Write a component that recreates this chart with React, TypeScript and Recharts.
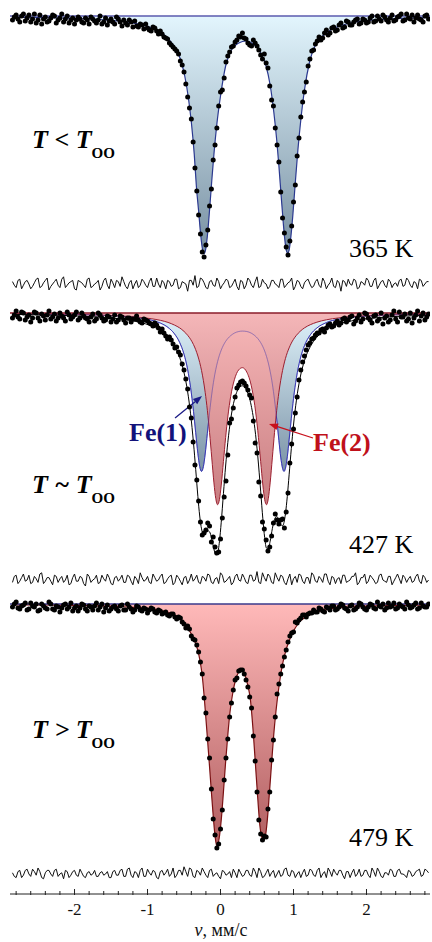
import React from "react";
import { ComposedChart, Area, Line, Scatter, XAxis, YAxis, ReferenceLine } from "recharts";

// Doppler velocity of the measured channels, mm/s
const velocity = [
  -2.85, -2.825, -2.8, -2.775, -2.75, -2.725, -2.7, -2.675, -2.65, -2.625,
  -2.6, -2.575, -2.55, -2.525, -2.5, -2.475, -2.45, -2.425, -2.4, -2.375,
  -2.35, -2.325, -2.3, -2.275, -2.25, -2.225, -2.2, -2.175, -2.15, -2.125,
  -2.1, -2.075, -2.05, -2.025, -2, -1.975, -1.95, -1.925, -1.9, -1.875,
  -1.85, -1.825, -1.8, -1.775, -1.75, -1.725, -1.7, -1.675, -1.65, -1.625,
  -1.6, -1.575, -1.55, -1.525, -1.5, -1.475, -1.45, -1.425, -1.4, -1.375,
  -1.35, -1.325, -1.3, -1.275, -1.25, -1.225, -1.2, -1.175, -1.15, -1.125,
  -1.1, -1.075, -1.05, -1.025, -1, -0.975, -0.95, -0.925, -0.9, -0.875,
  -0.85, -0.825, -0.8, -0.775, -0.75, -0.725, -0.7, -0.675, -0.65, -0.625,
  -0.6, -0.575, -0.55, -0.525, -0.5, -0.475, -0.45, -0.425, -0.4, -0.375,
  -0.35, -0.325, -0.3, -0.275, -0.25, -0.225, -0.2, -0.175, -0.15, -0.125,
  -0.1, -0.075, -0.05, -0.025, 0, 0.025, 0.05, 0.075, 0.1, 0.125,
  0.15, 0.175, 0.2, 0.225, 0.25, 0.275, 0.3, 0.325, 0.35, 0.375,
  0.4, 0.425, 0.45, 0.475, 0.5, 0.525, 0.55, 0.575, 0.6, 0.625,
  0.65, 0.675, 0.7, 0.725, 0.75, 0.775, 0.8, 0.825, 0.85, 0.875,
  0.9, 0.925, 0.95, 0.975, 1, 1.025, 1.05, 1.075, 1.1, 1.125,
  1.15, 1.175, 1.2, 1.225, 1.25, 1.275, 1.3, 1.325, 1.35, 1.375,
  1.4, 1.425, 1.45, 1.475, 1.5, 1.525, 1.55, 1.575, 1.6, 1.625,
  1.65, 1.675, 1.7, 1.725, 1.75, 1.775, 1.8, 1.825, 1.85, 1.875,
  1.9, 1.925, 1.95, 1.975, 2, 2.025, 2.05, 2.075, 2.1, 2.125,
  2.15, 2.175, 2.2, 2.225, 2.25, 2.275, 2.3, 2.325, 2.35, 2.375,
  2.4, 2.425, 2.45, 2.475, 2.5, 2.525, 2.55, 2.575, 2.6, 2.625,
  2.65, 2.675, 2.7, 2.725, 2.75, 2.775, 2.8, 2.825, 2.85,
];

// 365 K: measured absorption (%), residual, fitted doublet
const absorption365 = [
  0.4, 0.1, -0.1, 0.3, 0.6, 0.0, -0.2, 0.5, 0.2, -0.1,
  0.6, 0.3, -0.2, 0.7, 0.4, -0.1, 0.8, 0.3, 0.1, 0.6,
  0.5, 0.2, -0.1, 0.0, 0.7, 0.4, 0.2, -0.2, 0.6, 0.3,
  0.0, 0.7, 0.4, 0.2, 0.8, 0.4, 0.1, 0.3, 0.6, 0.7,
  0.2, 0.4, 0.8, 0.1, 0.3, 0.5, 0.7, 0.4, 0.0, 0.8,
  0.6, 0.2, 0.9, 0.5, 0.3, 0.6, 0.8, 0.1, 0.3, 0.6,
  1.0, 0.4, 0.7, 0.9, 0.4, 0.6, 1.1, 0.5, 1.0, 1.1,
  0.8, 0.9, 1.3, 0.8, 1.2, 1.4, 1.5, 1.1, 1.2, 1.5,
  1.8, 1.5, 1.8, 2.1, 2.2, 2.3, 2.7, 2.9, 3.1, 3.3,
  3.5, 3.8, 4.5, 4.9, 5.6, 6.8, 8.1, 9.2, 10.3, 12.6,
  15.2, 17.5, 19.9, 21.8, 23.6, 24.1, 22.9, 21.4, 19.0, 17.3,
  14.4, 12.9, 11.2, 9.0, 7.6, 7.4, 6.2, 4.6, 4.0, 3.6,
  3.1, 3.0, 2.6, 2.4, 2.0, 2.1, 1.7, 2.2, 2.3, 2.7,
  2.9, 3.0, 2.4, 2.7, 3.0, 3.4, 3.9, 4.3, 3.8, 4.7,
  5.2, 7.0, 8.4, 9.0, 11.2, 12.9, 14.6, 17.6, 20.2, 21.7,
  23.1, 23.9, 22.5, 21.0, 18.6, 16.9, 14.0, 12.2, 10.1, 8.6,
  7.6, 6.6, 5.0, 4.3, 3.5, 3.4, 2.8, 2.5, 2.1, 2.4,
  2.2, 1.7, 1.4, 1.9, 1.7, 1.2, 1.1, 1.5, 1.4, 0.9,
  0.7, 1.2, 1.1, 0.5, 0.6, 0.9, 0.9, 0.6, 0.4, 0.3,
  0.8, 0.7, 0.3, 0.4, 0.7, 0.6, 0.2, 0.0, 0.6, 0.5,
  0.0, 0.3, 0.5, -0.1, 0.1, 0.4, 0.6, 0.2, -0.1, 0.5,
  0.4, 0.1, 0.0, -0.2, 0.5, 0.4, -0.2, 0.2, 0.3, -0.1,
  0.6, 0.2, -0.1, 0.3, 0.4, 0.6, 0.0, -0.1, 0.3,
];
const residual365 = [
  0.2, -0.1, -0.3, 0.3, 0.4, -0.4, -0.1, 0.2, 0.3, 0.0,
  -0.4, -0.2, 0.1, 0.4, 0.5, -0.3, -0.2, 0.1, 0.3, 0.5,
  -0.5, -0.2, 0.0, 0.2, 0.4, -0.1, -0.3, 0.4, 0.6, -0.3,
  -0.1, 0.1, 0.2, 0.3, -0.4, -0.5, 0.3, 0.2, 0.1, -0.1,
  -0.3, 0.4, 0.5, -0.3, -0.2, 0.0, 0.1, 0.3, -0.5, -0.2,
  0.3, 0.5, -0.1, -0.4, 0.4, 0.1, -0.3, 0.3, 0.2, -0.2,
  0.6, 0.2, -0.2, -0.4, 0.1, 0.3, -0.4, 0.0, 0.3, -0.3,
  -0.1, 0.4, 0.2, -0.1, -0.3, 0.2, 0.5, -0.2, -0.2, 0.5,
  0.0, -0.3, 0.3, 0.1, -0.4, 0.3, 0.2, -0.2, -0.1, 0.4,
  0.4, -0.4, -0.3, 0.2, 0.1, 0.0, -0.6, 0.3, 0.3, -0.1,
  0.7, -0.3, -0.2, 0.5, 0.4, 0.1, -0.3, -0.4, 0.2, 0.3,
  -0.1, -0.2, 0.5, 0.2, -0.4, -0.1, 0.1, 0.4, 0.3, -0.3,
  -0.2, 0.1, 0.4, -0.2, -0.5, 0.3, 0.2, -0.4, -0.1, 0.5,
  0.3, -0.1, -0.3, 0.2, 0.6, -0.3, -0.2, 0.4, 0.1, 0.0,
  -0.4, -0.2, 0.3, 0.3, 0.0, -0.1, -0.3, 0.4, 0.4, -0.3,
  -0.1, 0.1, 0.2, 0.5, -0.5, -0.2, 0.3, 0.2, -0.2, -0.4,
  0.1, 0.3, 0.4, 0.0, -0.3, -0.2, 0.2, 0.4, -0.1, -0.3,
  0.5, 0.2, -0.4, -0.1, 0.1, 0.5, -0.2, -0.3, 0.3, 0.1,
  -0.6, 0.3, 0.2, -0.2, 0.4, 0.0, -0.1, 0.4, 0.3, -0.4,
  -0.3, 0.2, 0.1, -0.1, 0.5, 0.3, -0.2, -0.2, 0.3, 0.5,
  -0.4, -0.1, 0.2, 0.3, -0.1, -0.3, 0.4, 0.2, -0.3, 0.0,
  0.1, -0.2, 0.3, 0.4, -0.2, -0.1, 0.5, 0.3, -0.1, -0.3,
  0.2, 0.1, -0.4, 0.4, 0.3, -0.2, 0.0, 0.2, 0.2,
];
const fitVelocity365 = [
  -2.85, -2.5, -2.2, -1.9, -1.6, -1.4, -1.2, -1.05, -0.9, -0.8,
  -0.7, -0.62, -0.55, -0.49, -0.44, -0.4, -0.36, -0.33, -0.3, -0.27,
  -0.245, -0.226, -0.205, -0.18, -0.15, -0.12, -0.09, -0.05, 0, 0.07,
  0.15, 0.25, 0.35, 0.45, 0.55, 0.62, 0.68, 0.73, 0.77, 0.8,
  0.83, 0.86, 0.88, 0.9, 0.921, 0.94, 0.965, 0.99, 1.02, 1.06,
  1.1, 1.15, 1.22, 1.3, 1.4, 1.52, 1.7, 1.95, 2.3, 2.85,
];
const fit365 = [
  0.12, 0.16, 0.2, 0.27, 0.38, 0.5, 0.7, 0.93, 1.32, 1.72,
  2.4, 3.2, 4.3, 6.0, 8.2, 10.6, 13.8, 17.1, 19.5, 22.0,
  23.4, 23.8, 23.4, 22.0, 19.4, 16.5, 13.8, 10.8, 8.0, 5.0,
  3.4, 2.7, 2.5, 2.8, 3.7, 4.9, 6.9, 9.6, 12.4, 15.0,
  17.9, 20.7, 22.3, 23.4, 23.7, 23.4, 22.0, 20.0, 17.1, 13.4,
  10.4, 7.4, 4.6, 2.9, 2.0, 1.35, 0.85, 0.5, 0.3, 0.17,
];

// 427 K: measured, residual, Fe(1) and Fe(2) sub-spectra and their sum
const absorption427 = [
  0.5, 0.2, -0.2, 0.4, 0.6, -0.1, 0.0, 0.7, 0.4, 0.2,
  0.9, 0.5, -0.1, 0.0, 0.5, 0.8, 0.1, 0.3, 0.7, 0.2,
  -0.2, 0.6, 0.4, 0.1, 0.8, 0.5, 0.0, 0.3, 0.5, 0.8,
  -0.1, 0.2, 0.6, 0.4, 0.2, -0.1, 0.7, 0.5, 0.0, 0.3,
  0.5, 0.6, 0.9, 0.4, 0.1, 0.8, 0.6, 0.0, 0.2, 0.5,
  0.8, 0.7, 0.3, 0.4, 0.9, 0.6, 0.2, 0.9, 0.7, 0.3,
  0.4, 0.7, 1.0, 0.5, 0.5, 0.9, 0.6, 0.6, 0.3, 0.7,
  0.9, 1.0, 0.6, 0.7, 0.8, 1.0, 1.1, 1.3, 1.0, 1.2,
  1.5, 1.9, 1.6, 2.0, 2.3, 2.6, 2.4, 2.7, 3.1, 3.5,
  3.4, 3.9, 4.2, 5.1, 5.7, 6.6, 7.6, 9.4, 10.5, 12.9,
  15.2, 16.7, 18.8, 20.9, 22.2, 22.0, 21.7, 21.0, 21.3, 22.9,
  22.4, 23.4, 24.0, 23.9, 22.6, 20.5, 18.4, 16.8, 14.2, 11.0,
  10.6, 9.5, 8.4, 7.5, 7.2, 6.9, 6.8, 7.0, 7.3, 7.7,
  8.2, 8.5, 10.8, 13.0, 14.0, 16.9, 18.3, 20.9, 21.6, 22.7,
  23.8, 23.4, 22.3, 21.0, 20.1, 20.7, 21.1, 20.7, 20.6, 21.5,
  19.9, 18.0, 15.0, 13.1, 11.6, 10.0, 8.4, 6.7, 5.7, 4.9,
  4.3, 3.7, 3.2, 3.0, 2.6, 2.5, 2.2, 2.0, 2.0, 1.7,
  1.6, 1.9, 1.5, 1.2, 1.1, 1.4, 1.3, 1.0, 0.8, 1.2,
  1.0, 0.6, 0.5, 0.9, 0.7, 0.4, 0.3, 1.1, 0.8, 0.5,
  0.2, 0.9, 0.6, 0.0, 0.1, 0.5, 0.7, 1.0, 0.3, 0.2,
  0.8, 0.6, 0.0, 1.1, 0.5, 0.3, 0.9, 0.7, 0.2, -0.2,
  0.6, 0.9, -0.1, 0.4, 0.4, 0.1, 0.8, 0.6, 0.0, 1.0,
  0.5, 0.2, -0.2, 0.8, 0.3, 0.0, 0.7, 0.4, 0.1,
];
const residual427 = [
  -0.2, 0.3, 0.4, -0.3, -0.1, 0.2, 0.5, -0.1, 0.0, 0.4,
  -0.3, -0.2, 0.3, 0.1, -0.2, 0.5, 0.6, -0.3, -0.1, 0.2,
  0.2, -0.1, -0.4, 0.4, 0.3, -0.2, 0.1, 0.3, -0.2, 0.0,
  0.4, -0.4, -0.3, 0.2, 0.5, -0.1, -0.1, 0.3, 0.2, -0.3,
  -0.5, 0.5, 0.3, -0.2, 0.0, 0.1, 0.4, -0.3, -0.2, 0.4,
  0.1, -0.1, 0.5, 0.2, -0.3, -0.4, 0.2, 0.3, -0.1, 0.1,
  0.4, -0.2, -0.2, 0.4, 0.3, -0.1, -0.4, 0.3, 0.1, -0.3,
  0.6, 0.2, -0.1, 0.0, 0.3, -0.2, -0.3, 0.5, 0.2, -0.1,
  0.0, 0.3, 0.5, -0.3, -0.2, 0.1, 0.3, 0.4, -0.4, -0.2,
  0.4, 0.2, -0.1, -0.4, 0.2, 0.3, -0.3, 0.0, 0.5, -0.1,
  0.1, 0.4, -0.2, -0.3, 0.3, 0.2, -0.1, 0.5, 0.4, -0.2,
  -0.3, 0.1, 0.2, -0.3, 0.6, 0.4, -0.2, -0.1, 0.1, 0.3,
  -0.4, -0.2, 0.3, 0.5, 0.0, -0.1, 0.5, 0.2, -0.2, -0.3,
  0.4, 0.4, -0.1, 0.0, 0.7, -0.2, -0.3, 0.6, 0.2, -0.1,
  0.5, 0.3, -0.2, -0.3, 0.6, 0.2, -0.1, 0.4, 0.3, -0.2,
  -0.4, 0.1, 0.5, -0.4, 0.1, 0.3, -0.2, 0.5, 0.4, -0.1,
  -0.3, 0.2, 0.2, -0.3, 0.6, 0.4, -0.1, -0.2, 0.3, 0.1,
  -0.2, 0.5, 0.5, -0.1, -0.4, 0.3, 0.2, -0.3, 0.1, 0.2,
  -0.3, 0.4, 0.4, -0.2, -0.1, 0.0, 0.3, 0.3, 0.6, -0.4,
  -0.2, 0.2, 0.2, 0.5, -0.3, -0.1, 0.4, 0.2, 0.0, -0.3,
  -0.2, 0.4, 0.5, 0.0, -0.1, -0.2, 0.3, 0.3, -0.4, -0.1,
  0.2, 0.5, 0.1, -0.3, 0.4, 0.2, -0.2, 0.1, 0.3, -0.2,
  -0.1, 0.3, 0.5, -0.1, -0.3, 0.4, 0.2, -0.2, 0.0,
];
const fitVelocity427 = [
  -2.85, -2.4, -2, -1.7, -1.45, -1.25, -1.1, -0.95, -0.82, -0.72,
  -0.63, -0.56, -0.5, -0.45, -0.41, -0.37, -0.34, -0.31, -0.285, -0.26,
  -0.235, -0.21, -0.18, -0.15, -0.12, -0.09, -0.065, -0.04, -0.015, 0.01,
  0.04, 0.07, 0.1, 0.14, 0.19, 0.25, 0.3, 0.36, 0.42, 0.47,
  0.51, 0.55, 0.58, 0.605, 0.63, 0.655, 0.68, 0.71, 0.74, 0.77,
  0.8, 0.825, 0.85, 0.87, 0.89, 0.915, 0.94, 0.97, 1, 1.04,
  1.09, 1.15, 1.23, 1.32, 1.45, 1.62, 1.85, 2.15, 2.5, 2.85,
];
const fe1Fit427 = [
  0.07, 0.1, 0.14, 0.19, 0.27, 0.37, 0.5, 0.71, 1.02, 1.44,
  2.09, 2.94, 4.12, 5.66, 7.45, 9.84, 11.97, 14.05, 15.35, 15.84,
  15.37, 14.1, 12.03, 9.94, 8.11, 6.63, 5.65, 4.86, 4.22, 3.71,
  3.22, 2.84, 2.55, 2.26, 2.01, 1.85, 1.81, 1.85, 2.01, 2.26,
  2.55, 2.96, 3.37, 3.8, 4.34, 5.0, 5.83, 7.08, 8.68, 10.61,
  12.75, 14.41, 15.53, 15.84, 15.52, 14.38, 12.69, 10.53, 8.57, 6.48,
  4.66, 3.27, 2.19, 1.5, 0.96, 0.61, 0.38, 0.24, 0.15, 0.11,
];
const fe2Fit427 = [
  0.08, 0.1, 0.15, 0.2, 0.26, 0.35, 0.44, 0.57, 0.74, 0.94,
  1.21, 1.49, 1.84, 2.23, 2.63, 3.16, 3.67, 4.3, 4.95, 5.75,
  6.73, 7.93, 9.73, 11.95, 14.49, 16.99, 18.55, 19.17, 18.66, 17.21,
  14.85, 12.46, 10.4, 8.32, 6.67, 5.68, 5.47, 5.91, 7.22, 9.27,
  11.73, 14.85, 17.21, 18.66, 19.17, 18.55, 16.99, 14.49, 11.95, 9.73,
  7.93, 6.73, 5.75, 5.1, 4.54, 3.96, 3.49, 3.01, 2.63, 2.23,
  1.84, 1.49, 1.17, 0.92, 0.68, 0.49, 0.34, 0.23, 0.16, 0.12,
];
const totalFit427 = [
  0.14, 0.2, 0.28, 0.39, 0.53, 0.72, 0.94, 1.28, 1.77, 2.39,
  3.29, 4.43, 5.96, 7.89, 10.08, 13.0, 15.63, 18.35, 20.3, 21.59,
  22.1, 22.03, 21.76, 21.88, 22.6, 23.62, 24.2, 24.03, 22.88, 20.92,
  18.07, 15.3, 12.95, 10.58, 8.68, 7.53, 7.28, 7.76, 9.23, 11.52,
  14.28, 17.81, 20.58, 22.46, 23.51, 23.55, 22.82, 21.57, 20.63, 20.35,
  20.68, 21.14, 21.28, 20.94, 20.06, 18.34, 16.18, 13.54, 11.2, 8.71,
  6.5, 4.77, 3.36, 2.42, 1.65, 1.1, 0.72, 0.47, 0.31, 0.23,
];

// 479 K: measured, residual, fitted doublet
const absorption479 = [
  0.3, 0.0, -0.2, 0.4, 0.5, 0.2, 0.1, -0.1, 0.6, 0.5,
  -0.1, 0.2, 0.3, 0.0, 0.7, 0.6, 0.0, 0.2, 0.4, 0.5,
  -0.2, 0.0, 0.5, 0.6, 0.2, 0.3, 0.8, 0.4, 0.1, 0.0,
  0.5, 0.3, -0.1, 0.7, 0.4, 0.2, 0.7, 0.4, 0.0, 0.1,
  0.5, 0.7, 0.2, 0.3, 0.6, 0.2, -0.1, 0.6, 0.3, 0.0,
  0.8, 0.4, 0.1, 0.7, 0.5, 0.3, 0.2, 0.5, 0.7, 0.2,
  0.1, 0.6, 0.6, 0.0, 0.3, 0.5, 0.8, 0.6, 0.2, 0.3,
  0.6, 0.7, 0.4, 0.5, 0.9, 0.6, 0.4, 0.5, 0.8, 0.9,
  0.6, 0.7, 1.0, 0.9, 0.8, 1.1, 1.2, 1.0, 1.0, 1.3,
  1.5, 1.3, 1.4, 1.8, 2.0, 2.4, 2.2, 2.5, 3.2, 3.5,
  3.6, 4.1, 4.8, 5.8, 7.0, 9.4, 10.9, 13.5, 15.4, 18.5,
  21.5, 23.1, 24.4, 24.0, 22.5, 20.6, 17.6, 15.4, 13.5, 11.3,
  9.9, 8.6, 7.6, 7.4, 6.7, 6.6, 6.6, 7.0, 7.6, 8.3,
  9.3, 10.4, 13.2, 15.7, 18.8, 21.6, 23.0, 23.6, 23.2, 23.3,
  20.5, 18.8, 15.6, 13.6, 11.3, 9.0, 8.0, 7.0, 6.2, 5.3,
  4.6, 3.8, 3.2, 2.9, 2.8, 1.8, 1.9, 1.6, 1.4, 1.1,
  1.1, 1.3, 1.0, 0.9, 0.9, 0.6, 0.8, 0.8, 0.4, 0.5,
  0.7, 0.8, 0.3, 0.4, 0.6, 0.2, 0.2, 0.6, 0.5, 0.3,
  0.0, 0.1, 0.4, 0.5, 0.7, 0.2, 0.1, 0.6, 0.5, 0.3,
  -0.1, 0.0, 0.3, 0.5, 0.6, 0.3, 0.0, 0.1, 0.4, 0.5,
  -0.2, 0.2, 0.3, 0.0, 0.6, 0.4, -0.1, 0.3, 0.2, -0.1,
  0.5, 0.4, 0.0, 0.2, 0.3, 0.5, -0.2, 0.1, 0.4, 0.3,
  0.1, -0.1, 0.5, 0.4, -0.1, 0.2, 0.3, 0.3, 0.0,
];
const residual479 = [
  0.1, -0.2, -0.3, 0.2, 0.3, -0.3, -0.1, 0.3, 0.4, 0.0,
  -0.2, 0.4, 0.2, -0.1, 0.5, 0.2, -0.3, -0.4, 0.1, 0.3,
  0.3, 0.0, -0.2, 0.3, 0.4, -0.2, 0.0, 0.1, -0.4, 0.3,
  0.2, -0.3, -0.1, 0.2, 0.3, -0.1, -0.2, 0.4, 0.1, -0.2,
  -0.3, 0.1, 0.2, -0.1, 0.0, 0.3, -0.2, -0.2, 0.1, 0.2,
  -0.1, 0.0, 0.2, -0.3, -0.3, 0.2, 0.3, -0.1, -0.1, 0.3,
  0.4, -0.2, -0.2, 0.4, 0.5, -0.1, -0.3, 0.2, 0.1, -0.3,
  0.3, 0.5, -0.2, -0.2, 0.4, 0.1, -0.1, 0.3, 0.2, -0.3,
  -0.4, 0.2, 0.3, -0.1, 0.1, 0.4, -0.2, 0.0, 0.5, -0.3,
  -0.1, 0.3, 0.3, -0.1, 0.6, 0.2, -0.2, 0.5, 0.4, -0.2,
  -0.3, 0.3, 0.2, -0.1, 0.5, 0.2, -0.1, -0.3, 0.3, 0.4,
  -0.2, 0.0, 0.1, -0.2, -0.4, 0.3, 0.2, -0.1, 0.0, 0.2,
  -0.3, 0.4, 0.1, -0.3, 0.4, 0.1, -0.2, -0.1, 0.3, 0.3,
  -0.1, -0.2, 0.5, 0.2, -0.3, 0.5, 0.2, -0.3, -0.2, 0.1,
  0.4, -0.2, 0.1, 0.3, -0.3, 0.0, 0.3, -0.2, -0.1, 0.4,
  0.5, -0.1, -0.2, 0.3, 0.2, -0.3, 0.0, 0.2, -0.3, 0.1,
  0.4, -0.2, -0.1, 0.4, 0.3, -0.1, -0.2, 0.3, 0.5, -0.3,
  0.0, 0.2, -0.3, 0.5, 0.2, -0.2, 0.4, 0.1, -0.1, 0.3,
  0.3, -0.1, -0.4, 0.2, 0.2, -0.3, 0.1, 0.4, -0.2, 0.0,
  0.4, -0.2, -0.1, 0.3, 0.3, -0.1, -0.3, 0.5, 0.2, -0.2,
  0.5, 0.2, -0.2, -0.3, 0.1, 0.1, -0.1, 0.4, 0.3, -0.2,
  -0.2, 0.3, 0.4, 0.0, 0.0, -0.1, -0.3, 0.3, 0.2, -0.2,
  -0.1, 0.2, 0.3, 0.4, -0.2, -0.1, 0.4, 0.3, 0.1,
];
const fitVelocity479 = [
  -2.85, -2.4, -2, -1.7, -1.4, -1.2, -1, -0.85, -0.72, -0.62,
  -0.55, -0.49, -0.44, -0.4, -0.36, -0.32, -0.28, -0.25, -0.22, -0.19,
  -0.16, -0.13, -0.1, -0.075, -0.048, -0.02, 0.01, 0.04, 0.07, 0.1,
  0.13, 0.17, 0.21, 0.25, 0.29, 0.33, 0.37, 0.41, 0.45, 0.48,
  0.51, 0.54, 0.565, 0.59, 0.615, 0.64, 0.67, 0.7, 0.73, 0.76,
  0.8, 0.85, 0.91, 0.98, 1.07, 1.18, 1.32, 1.5, 1.75, 2.1,
  2.5, 2.85,
];
const fit479 = [
  0.08, 0.1, 0.14, 0.18, 0.25, 0.33, 0.45, 0.62, 0.85, 1.15,
  1.5, 1.95, 2.5, 3.0, 3.6, 4.4, 5.7, 7.2, 9.6, 12.4,
  15.3, 18.3, 21.2, 23.2, 24.3, 23.5, 21.6, 18.8, 15.8, 13.1,
  10.8, 8.8, 7.5, 6.8, 6.6, 7.0, 8.0, 9.6, 13.0, 16.2,
  19.4, 22.2, 23.3, 23.6, 23.2, 21.7, 18.9, 15.9, 13.0, 10.7,
  8.3, 6.0, 4.3, 3.0, 1.9, 1.25, 0.8, 0.5, 0.32, 0.2,
  0.13, 0.1,
];

const velocityTicks = [
  -2.8, -2.6, -2.4, -2.2, -2, -1.8, -1.6, -1.4, -1.2, -1, -0.8, -0.6, -0.4, -0.2,
  0, 0.2, 0.4, 0.6, 0.8, 1, 1.2, 1.4, 1.6, 1.8, 2, 2.2, 2.4, 2.6, 2.8,
];

const serif = "'Liberation Serif', 'Times New Roman', serif";
const X_DOMAIN: [number, number] = [-2.884, 2.87];
const MARGIN = { top: 0, right: 2, bottom: 0, left: 10 };

const channels = (vals: number[]) =>
  velocity.map((v, i) => ({ v, a: vals[i] })).filter((d) => d.a !== undefined);

const Dot = (p: any) => <circle cx={p.cx} cy={p.cy} r={2.5} fill="#000" />;

const arrow = (color: string) => (p: any) => {
  const { x1, y1, x2, y2 } = p;
  const ang = Math.atan2(y2 - y1, x2 - x1);
  const hx = x2 - 9 * Math.cos(ang);
  const hy = y2 - 9 * Math.sin(ang);
  const ox = 3.4 * Math.sin(ang);
  const oy = -3.4 * Math.cos(ang);
  return (
    <g>
      <line x1={x1} y1={y1} x2={hx} y2={hy} stroke={color} strokeWidth={1.3} />
      <polygon points={`${x2},${y2} ${hx + ox},${hy + oy} ${hx - ox},${hy - oy}`} fill={color} />
    </g>
  );
};

const AxisTick = (props: any) => {
  const { x, y, payload } = props;
  const v = payload.value;
  const major = Math.abs(v - Math.round(v)) < 1e-6;
  return (
    <g>
      <line x1={x} x2={x} y1={y - (major ? 5 : 3)} y2={y + 1} stroke="#222" strokeWidth={1} />
      {major && (
        <text x={x} y={y + 21} textAnchor="middle" fontSize={17} fontFamily={serif} fill="#111">
          {String(v)}
        </text>
      )}
    </g>
  );
};

function PanelLabel({ x, y, sign }: { x: number; y: number; sign: string }) {
  return (
    <text x={x} y={y} fontFamily={serif} fontSize={26} fontWeight="bold" fontStyle="italic" fill="#000">
      {`T ${sign} T`}
      <tspan fontStyle="normal" fontSize={15} dy={10}>OO</tspan>
    </text>
  );
}

export default function App() {
  const rows365 = fitVelocity365.map((v, i) => ({ v, fit: fit365[i] }));
  const rows427 = fitVelocity427.map((v, i) => ({
    v,
    fe1: fe1Fit427[i],
    fe2: fe2Fit427[i],
    total: totalFit427[i],
  }));
  const rows479 = fitVelocity479.map((v, i) => ({ v, fit: fit479[i] }));

  return (
    <div style={{ position: "absolute", left: 0, top: 0, width: 432, height: 942, background: "#fff", overflow: "hidden" }}>
      {/* 365 K */}
      <div style={{ position: "absolute", left: 0, top: 0 }}>
        <ComposedChart width={432} height={300} data={rows365} margin={MARGIN}>
          <defs>
            <linearGradient id="g365" x1="0" y1="0" x2="0" y2="1">
              <stop offset="0%" stopColor="#e2f5fd" />
              <stop offset="100%" stopColor="#7890a2" />
            </linearGradient>
          </defs>
          <XAxis type="number" dataKey="v" domain={X_DOMAIN} hide allowDataOverflow />
          <YAxis yAxisId="s" type="number" domain={[-1.6, 28.4]} reversed hide allowDataOverflow />
          <YAxis yAxisId="r" type="number" domain={[-1.333, 23.667]} hide allowDataOverflow />
          <Area yAxisId="s" type="monotone" dataKey="fit" baseValue={0} stroke="#2b3990" strokeWidth={1.2}
            fill="url(#g365)" fillOpacity={1} isAnimationActive={false} activeDot={false} />
          <ReferenceLine yAxisId="s" y={0} stroke="#5a5aae" strokeWidth={1.5} />
          <Line yAxisId="r" data={channels(residual365)} dataKey="a" type="linear" stroke="#111" strokeWidth={1}
            dot={false} activeDot={false} isAnimationActive={false} />
          <Scatter yAxisId="s" data={channels(absorption365)} dataKey="a" shape={Dot} isAnimationActive={false} />
        </ComposedChart>
      </div>

      {/* 427 K */}
      <div style={{ position: "absolute", left: 0, top: 300 }}>
        <ComposedChart width={432} height={292} data={rows427} margin={MARGIN}>
          <defs>
            <linearGradient id="g427a" x1="0" y1="0" x2="0" y2="1">
              <stop offset="0%" stopColor="#dff2fb" />
              <stop offset="100%" stopColor="#7b93a6" />
            </linearGradient>
            <linearGradient id="g427b" x1="0" y1="0" x2="0" y2="1">
              <stop offset="0%" stopColor="#f7b0b1" />
              <stop offset="100%" stopColor="#c27074" />
            </linearGradient>
          </defs>
          <XAxis type="number" dataKey="v" domain={X_DOMAIN} hide allowDataOverflow />
          <YAxis yAxisId="s" type="number" domain={[-1.3, 27.9]} reversed hide allowDataOverflow />
          <YAxis yAxisId="r" type="number" domain={[-1.0, 23.333]} hide allowDataOverflow />
          <Area yAxisId="s" type="monotone" dataKey="fe1" baseValue={0} stroke="#3a3ab4" strokeWidth={1}
            fill="url(#g427a)" fillOpacity={1} isAnimationActive={false} activeDot={false} />
          <Area yAxisId="s" type="monotone" dataKey="fe2" baseValue={0} stroke="#9c1f2f" strokeWidth={1}
            fill="url(#g427b)" fillOpacity={0.9} isAnimationActive={false} activeDot={false} />
          {/* Fe(1) outline seen through the Fe(2) fill */}
          <Line yAxisId="s" type="monotone" dataKey="fe1" stroke="#3a3ab4" strokeOpacity={0.4} strokeWidth={1}
            dot={false} activeDot={false} isAnimationActive={false} />
          <ReferenceLine yAxisId="s" y={0} stroke="#8a1c2a" strokeWidth={1.5} />
          <Line yAxisId="s" type="monotone" dataKey="total" stroke="#000" strokeWidth={1}
            dot={false} activeDot={false} isAnimationActive={false} />
          <Line yAxisId="r" data={channels(residual427)} dataKey="a" type="linear" stroke="#111" strokeWidth={1}
            dot={false} activeDot={false} isAnimationActive={false} />
          <Scatter yAxisId="s" data={channels(absorption427)} dataKey="a" shape={Dot} isAnimationActive={false} />
          <ReferenceLine yAxisId="s" segment={[{ x: -0.623, y: 10.5 }, { x: -0.253, y: 8.3 }]}
            shape={arrow("#1b1b86")} ifOverflow="visible" />
          <ReferenceLine yAxisId="s" segment={[{ x: 1.267, y: 12.5 }, { x: 0.664, y: 11.1 }]}
            shape={arrow("#c8101c")} ifOverflow="visible" />
        </ComposedChart>
      </div>

      {/* 479 K with velocity axis */}
      <div style={{ position: "absolute", left: 0, top: 592 }}>
        <ComposedChart width={432} height={350} data={rows479} margin={MARGIN}>
          <defs>
            <linearGradient id="g479" x1="0" y1="0" x2="0" y2="1">
              <stop offset="0%" stopColor="#ffb9b9" />
              <stop offset="100%" stopColor="#b05e60" />
            </linearGradient>
          </defs>
          <XAxis type="number" dataKey="v" domain={X_DOMAIN} allowDataOverflow ticks={velocityTicks} interval={0}
            tickLine={false} tickSize={0} tickMargin={0} height={48}
            axisLine={{ stroke: "#222", strokeWidth: 1 }} tick={AxisTick} />
          <YAxis yAxisId="s" type="number" domain={[-1.2, 29.0]} reversed hide allowDataOverflow />
          <YAxis yAxisId="r" type="number" domain={[-1.667, 23.5]} hide allowDataOverflow />
          <Area yAxisId="s" type="monotone" dataKey="fit" baseValue={0} stroke="#7b1113" strokeWidth={1.2}
            fill="url(#g479)" fillOpacity={1} isAnimationActive={false} activeDot={false} />
          <ReferenceLine yAxisId="s" y={0} stroke="#3a3a8c" strokeWidth={1.5} />
          <Line yAxisId="r" data={channels(residual479)} dataKey="a" type="linear" stroke="#111" strokeWidth={1}
            dot={false} activeDot={false} isAnimationActive={false} />
          <Scatter yAxisId="s" data={channels(absorption479)} dataKey="a" shape={Dot} isAnimationActive={false} />
        </ComposedChart>
      </div>

      {/* labels */}
      <svg width={432} height={942} style={{ position: "absolute", left: 0, top: 0, pointerEvents: "none" }}>
        <PanelLabel x={32} y={148} sign="<" />
        <PanelLabel x={32} y={493} sign="~" />
        <PanelLabel x={32} y={738} sign=">" />
        <text x={349} y={257} fontFamily={serif} fontSize={26} fill="#000">365 K</text>
        <text x={349} y={553} fontFamily={serif} fontSize={26} fill="#000">427 K</text>
        <text x={349} y={846} fontFamily={serif} fontSize={26} fill="#000">479 K</text>
        <text x={129} y={441} fontFamily={serif} fontSize={26} fontWeight="bold" fill="#12127a">Fe(1)</text>
        <text x={313} y={451} fontFamily={serif} fontSize={26} fontWeight="bold" fill="#c0101a">Fe(2)</text>
        <text x={221} y={936} textAnchor="middle" fontFamily={serif} fontSize={18} fill="#111">
          <tspan fontStyle="italic">v</tspan>, мм/с
        </text>
      </svg>
    </div>
  );
}
